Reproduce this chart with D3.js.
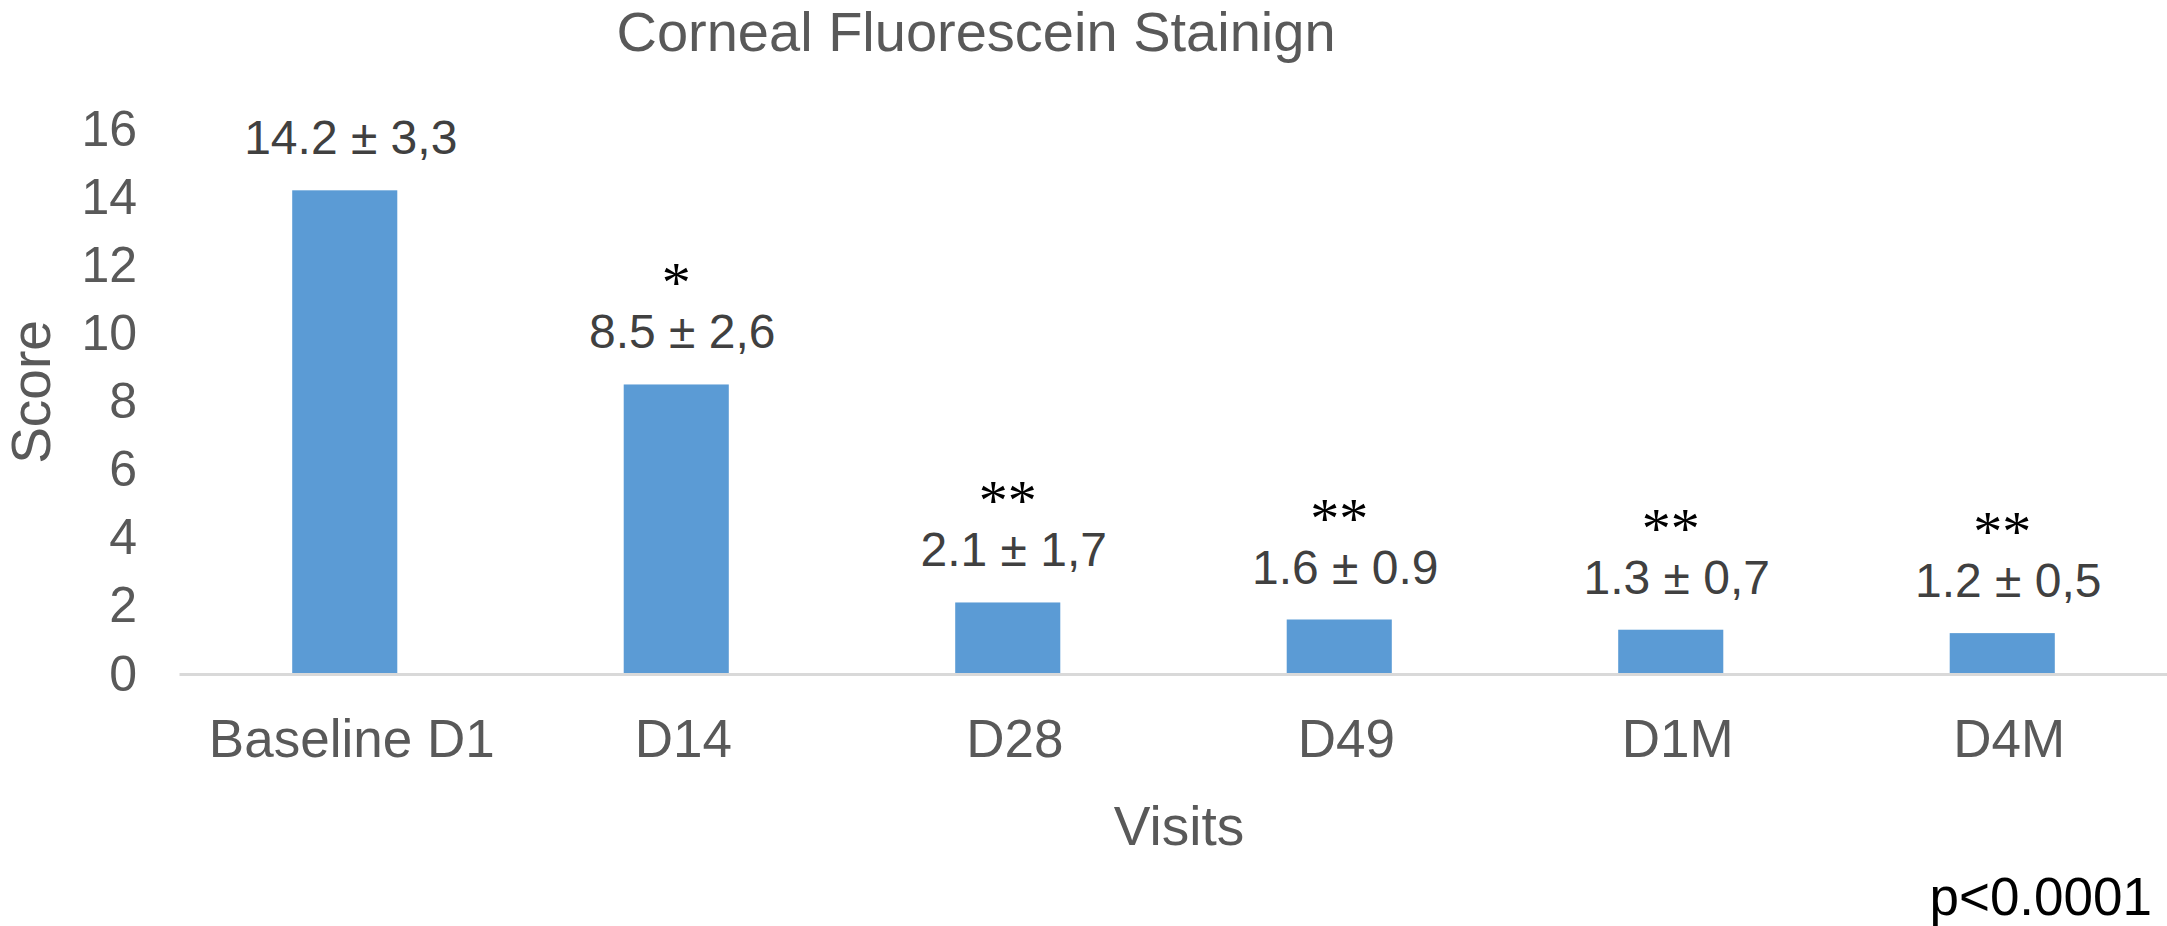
<!DOCTYPE html>
<html>
<head>
<meta charset="utf-8">
<script src="https://cdn.jsdelivr.net/npm/d3@7"></script>
<style>
  html, body { margin: 0; padding: 0; background: #ffffff; }
  svg { display: block; }
  text { font-family: "Liberation Sans", Arial, Helvetica, sans-serif; }
</style>
</head>
<body>
<svg id="chart" width="2167" height="926"></svg>
<script>
// ---- data ----
const categories = ["Baseline D1", "D14", "D28", "D49", "D1M", "D4M"];
const means = [14.2, 8.5, 2.1, 1.6, 1.3, 1.2];
const meanLabels = ["14.2", "8.5", "2.1", "1.6", "1.3", "1.2"];
const sdLabels = ["3,3", "2,6", "1,7", "0.9", "0,7", "0,5"];
const stars = ["", "*", "**", "**", "**", "**"];
const yTicks = [0, 2, 4, 6, 8, 10, 12, 14, 16];
const titleText = "Corneal Fluorescein Stainign";
const xTitle = "Visits";
const yTitle = "Score";
const pNote = "p<0.0001";

// ---- layout ----
const svg = d3.select("#chart");

const x = d3.scaleBand()
  .domain(categories)
  .range([179, 2168])
  .paddingInner(0.683)
  .paddingOuter(0.3415);

const y = d3.scaleLinear()
  .domain([0, 16])
  .range([674, 129]);

// y axis (labels only)
const yAxis = svg.append("g")
  .attr("transform", "translate(179,0)")
  .call(d3.axisLeft(y).tickValues(yTicks).tickSize(0).tickPadding(42));
yAxis.select(".domain").remove();
yAxis.selectAll("text")
  .attr("fill", "#595959")
  .style("font-size", "50px")
  .style("font-family", "'Liberation Sans', Arial, sans-serif");

// bars
svg.append("g").selectAll("rect")
  .data(categories)
  .join("rect")
  .attr("x", d => x(d))
  .attr("width", x.bandwidth())
  .attr("y", (d, i) => y(means[i]))
  .attr("height", (d, i) => y(0) - y(means[i]))
  .attr("fill", "#5B9BD5");

// x axis
const xAxis = svg.append("g")
  .attr("transform", `translate(0,${y(0)})`)
  .call(d3.axisBottom(x).tickSize(0).tickSizeOuter(0).tickPadding(45));
xAxis.select(".domain")
  .attr("stroke", "#d9d9d9")
  .attr("stroke-width", 3);
xAxis.selectAll("text")
  .attr("fill", "#595959")
  .attr("dx", 7)
  .style("font-size", "53px")
  .style("font-family", "'Liberation Sans', Arial, sans-serif");

// value labels
svg.append("g").selectAll("text")
  .data(categories)
  .join("text")
  .attr("x", d => x(d) + x.bandwidth() / 2 + 6)
  .attr("y", (d, i) => y(means[i]) - 36)
  .attr("text-anchor", "middle")
  .attr("fill", "#404040")
  .style("font-size", "48px")
  .text((d, i) => `${meanLabels[i]} ± ${sdLabels[i]}`);

// significance stars
svg.append("g").selectAll("text")
  .data(categories)
  .join("text")
  .attr("x", d => x(d) + x.bandwidth() / 2)
  .attr("y", (d, i) => y(means[i]) - 36 - 46)
  .attr("text-anchor", "middle")
  .attr("fill", "#000000")
  .style("font-family", "'Liberation Serif', 'Times New Roman', serif")
  .style("font-size", "58px")
  .text((d, i) => stars[i]);

// title
svg.append("text")
  .attr("x", 976)
  .attr("y", 51)
  .attr("text-anchor", "middle")
  .attr("fill", "#595959")
  .style("font-size", "56px")
  .text(titleText);

// x title
svg.append("text")
  .attr("x", 1179)
  .attr("y", 845)
  .attr("text-anchor", "middle")
  .attr("fill", "#595959")
  .style("font-size", "55px")
  .text(xTitle);

// y title
svg.append("text")
  .attr("transform", "translate(50,392) rotate(-90)")
  .attr("text-anchor", "middle")
  .attr("fill", "#595959")
  .style("font-size", "55px")
  .text(yTitle);

// p note
svg.append("text")
  .attr("x", 2152)
  .attr("y", 915)
  .attr("text-anchor", "end")
  .attr("fill", "#000000")
  .style("font-size", "53px")
  .text(pNote);
</script>
</body>
</html>
